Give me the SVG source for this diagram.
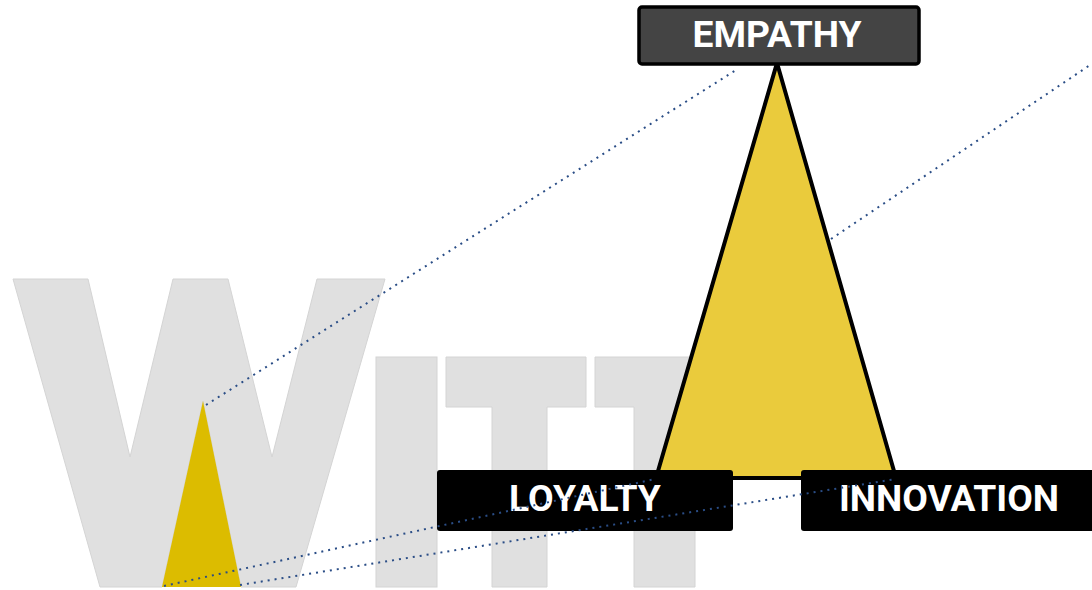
<svg xmlns="http://www.w3.org/2000/svg" width="1092" height="590" viewBox="0 0 1092 590">
  <style>
    .letter { fill: #e0e0e0; stroke: #d4d4d4; stroke-width: 1; }
    .label { font-family: Roboto, "Liberation Sans", sans-serif; font-weight: bold; font-size: 37.2px; fill: #ffffff; text-anchor: middle; }
    .link { fill: none; stroke: #2a4d86; stroke-width: 2; stroke-dasharray: 2 5; }
  </style>
  <rect width="1092" height="590" fill="#ffffff"/>

  <!-- backdrop lettering "WITT" -->
  <g id="backdrop">
    <polygon class="letter" points="13,279 88,279 130,457 173,279 228,279 272,457 317,279 385,279 296,587 241,587 203,401 162,587 100,587"/>
    <rect class="letter" x="376" y="357" width="61" height="230"/>
    <polygon class="letter" points="446,357 586,357 586,407 547,407 547,587 492,587 492,407 446,407"/>
    <polygon class="letter" points="595,357 734,357 734,407 695,407 695,587 634,587 634,407 595,407"/>
  </g>

  <!-- small triangle inside the W -->
  <g id="small-triangle">
    <polygon points="203,401 241,587 162,587" fill="#dcbc00"/>
  </g>

  <!-- large triangle -->
  <g id="big-triangle">
    <polygon points="777,63 896,478 656,478" fill="#eacb3c" stroke="#000000" stroke-width="4" stroke-linejoin="miter"/>
  </g>

  <g id="empathy">
    <rect x="639" y="7" width="280" height="57" rx="3" fill="#444444" stroke="#000000" stroke-width="3.5"/>
    <text class="label" x="777" y="47">EMPATHY</text>
  </g>

  <g id="loyalty">
    <rect x="437" y="470" width="296" height="61" rx="3" fill="#000000"/>
    <text class="label" x="585" y="511">LOYALTY</text>
  </g>

  <g id="innovation">
    <rect x="801" y="470" width="296" height="61" rx="3" fill="#000000"/>
    <text class="label" x="949" y="511">INNOVATION</text>
  </g>

  <!-- dotted projection lines -->
  <g id="connectors">
    <line class="link" x1="206" y1="405" x2="736" y2="70"/>
    <line class="link" x1="164" y1="586" x2="655" y2="479"/>
    <line class="link" x1="240" y1="585" x2="896" y2="479"/>
    <line class="link" x1="831" y1="239" x2="1096" y2="61"/>
  </g>
</svg>
